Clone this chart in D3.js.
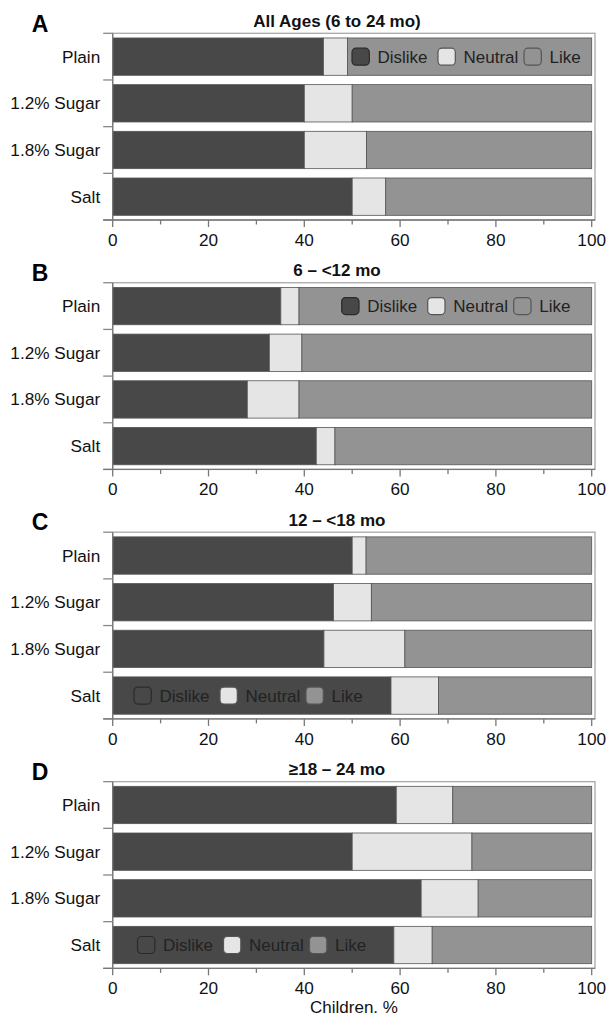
<!DOCTYPE html>
<html>
<head>
<meta charset="utf-8">
<script src="https://cdn.jsdelivr.net/npm/d3@7"></script>
<style>
  html, body { margin: 0; padding: 0; background: #fff; }
  svg { display: block; font-family: "Liberation Sans", Arial, Helvetica, sans-serif; }
</style>
</head>
<body>
<svg id="chart" width="607" height="1022"></svg>
<script>
// ---- Data ----
const categories = ["Plain", "1.2% Sugar", "1.8% Sugar", "Salt"];
const seriesNames = ["Dislike", "Neutral", "Like"];
const panelLetters = ["A", "B", "C", "D"];
const panelTitles = ["All Ages (6 to 24 mo)", "6 \u2013 <12 mo", "12 \u2013 <18 mo", "\u226518 \u2013 24 mo"];
const xTicks = [0, 20, 40, 60, 80, 100];
const xMinorTicks = [10, 30, 50, 70, 90];
const axisTitle = "Children. %";

const dislikeA = [44, 40, 40, 50];
const neutralA = [5, 10, 13, 7];
const likeA    = [51, 50, 47, 43];

const dislikeB = [35.1, 32.7, 28.1, 42.5];
const neutralB = [3.8, 6.8, 10.8, 3.9];
const likeB    = [61.1, 60.5, 61.1, 53.6];

const dislikeC = [50, 46.1, 44.1, 58.1];
const neutralC = [2.9, 7.9, 16.9, 9.9];
const likeC    = [47.1, 46, 39, 32];

const dislikeD = [59.2, 50, 64.4, 58.7];
const neutralD = [11.8, 25, 11.9, 8];
const likeD    = [29, 25, 23.7, 33.3];

// ---- Styles / layout ----
const colors = { Dislike: "#484848", Neutral: "#e5e5e5", Like: "#939393" };
const panelsData = [
  [dislikeA, neutralA, likeA],
  [dislikeB, neutralB, likeB],
  [dislikeC, neutralC, likeC],
  [dislikeD, neutralD, likeD]
];
const legendPlacement = [
  { row: "Plain", x0: 352 },
  { row: "Plain", x0: 341.7 },
  { row: "Salt", x0: 134 },
  { row: "Salt", x0: 137.5 }
];

const svg = d3.select("#chart");
const left = 112.7, right = 591.7, frameRight = 595;
const firstTop = 33.3, panelStep = 249.45, plotH = 186.7;
const x = d3.scaleLinear().domain([0, 100]).range([left, right]);

panelsData.forEach((series, p) => {
  const top = firstTop + p * panelStep;
  const bottom = top + plotH;
  const g = svg.append("g");

  const y = d3.scaleBand().domain(categories).range([top, bottom])
    .paddingInner(0.2).paddingOuter(0.1);

  // frame
  g.append("rect")
    .attr("x", left).attr("y", top)
    .attr("width", frameRight - left).attr("height", plotH)
    .attr("fill", "none").attr("stroke", "#a8a8a8").attr("stroke-width", 1.3);

  // stacked data
  const rows = categories.map((c, i) => {
    const o = { cat: c };
    seriesNames.forEach((s, k) => { o[s] = series[k][i]; });
    return o;
  });
  const stacked = d3.stack().keys(seriesNames)(rows);

  stacked.forEach(layer => {
    g.append("g").selectAll("rect")
      .data(layer)
      .join("rect")
      .attr("x", d => x(d[0]))
      .attr("y", d => y(d.data.cat))
      .attr("width", d => x(d[1]) - x(d[0]))
      .attr("height", y.bandwidth())
      .attr("fill", colors[layer.key])
      .attr("stroke", "#555")
      .attr("stroke-width", 0.8);
  });

  // y axis: line with ticks at band boundaries
  g.append("line")
    .attr("x1", left).attr("x2", left).attr("y1", top).attr("y2", bottom)
    .attr("stroke", "#777").attr("stroke-width", 1.3);
  const boundaryYs = [top].concat(categories.slice(1).map(c => y(c) - (y.step() - y.bandwidth()) / 2)).concat([bottom]);
  g.selectAll(".ytick").data(boundaryYs).join("line")
    .attr("x1", left - 9.5).attr("x2", left)
    .attr("y1", d => d).attr("y2", d => d)
    .attr("stroke", "#888").attr("stroke-width", 1.3);

  g.selectAll(".ylab").data(categories).join("text")
    .attr("x", left - 12.5)
    .attr("y", d => y(d) + y.bandwidth() / 2)
    .attr("dy", "0.35em")
    .attr("text-anchor", "end")
    .attr("font-size", 17.2)
    .attr("fill", "#111")
    .text(d => d);

  // x axis
  g.append("line")
    .attr("x1", left - 9.5).attr("x2", frameRight).attr("y1", bottom).attr("y2", bottom)
    .attr("stroke", "#777").attr("stroke-width", 1.3);
  g.selectAll(".xt").data(xTicks).join("line")
    .attr("x1", d => x(d)).attr("x2", d => x(d))
    .attr("y1", bottom).attr("y2", bottom + 7)
    .attr("stroke", "#777").attr("stroke-width", 1.3);
  g.selectAll(".xm").data(xMinorTicks).join("line")
    .attr("x1", d => x(d)).attr("x2", d => x(d))
    .attr("y1", bottom).attr("y2", bottom + 4.5)
    .attr("stroke", "#777").attr("stroke-width", 1.3);
  g.selectAll(".xl").data(xTicks).join("text")
    .attr("x", d => x(d))
    .attr("y", bottom + 26)
    .attr("text-anchor", "middle")
    .attr("font-size", 17.2)
    .attr("fill", "#111")
    .text(d => d);

  // title and letter
  g.append("text")
    .attr("x", 337).attr("y", top - 6.5)
    .attr("text-anchor", "middle")
    .attr("font-size", 17).attr("font-weight", "bold")
    .attr("fill", "#111")
    .text(panelTitles[p]);
  g.append("text")
    .attr("x", 40).attr("y", top - 1.8)
    .attr("text-anchor", "middle")
    .attr("font-size", 23).attr("font-weight", "bold")
    .attr("fill", "#000")
    .text(panelLetters[p]);

  // legend
  const lp = legendPlacement[p];
  const cy = y(lp.row) + y.bandwidth() / 2;
  const lg = g.append("g");
  seriesNames.forEach((s, k) => {
    const x0 = lp.x0 + k * 86;
    lg.append("rect")
      .attr("x", x0).attr("y", cy - 8.5)
      .attr("width", 17.3).attr("height", 17)
      .attr("rx", 4).attr("ry", 4)
      .attr("fill", colors[s]).attr("stroke", s === "Dislike" ? "#2a2a2a" : "#555").attr("stroke-width", 1.2);
    lg.append("text")
      .attr("x", x0 + 25.5).attr("y", cy)
      .attr("dy", "0.35em")
      .attr("font-size", 17)
      .attr("fill", "#222")
      .text(s);
  });
});

svg.append("text")
  .attr("x", 354).attr("y", 1013)
  .attr("text-anchor", "middle")
  .attr("font-size", 17)
  .attr("fill", "#111")
  .text(axisTitle);
</script>
</body>
</html>
